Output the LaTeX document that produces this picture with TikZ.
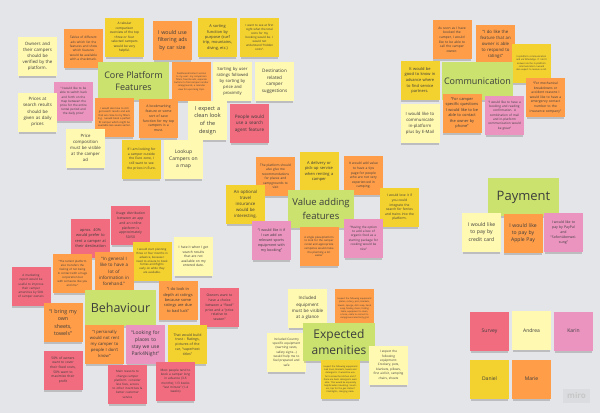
\documentclass[tikz,border=0pt]{standalone}
\usepackage{fontspec}
\setmainfont{Open Sans}
\usetikzlibrary{shadows}
\newdimen\nfsd
\newcommand\nfs[1]{\nfsd=#1pt \nfsd=1.4\nfsd \fontsize{#1pt}{\the\nfsd}\selectfont}
\definecolor{board}{HTML}{E4E5E8}
\definecolor{lyel}{HTML}{FFF9B1}
\definecolor{yel}{HTML}{F3D12E}
\definecolor{org}{HTML}{FF9D48}
\definecolor{rose}{HTML}{F16C7F}
\definecolor{vio}{HTML}{EA94BF}
\definecolor{grn}{HTML}{CBE36E}
\definecolor{ink}{HTML}{3C3C3C}
\tikzset{
  fsz/.style={font=\nfs{#1}},
  stick/.style={inner sep=0pt, align=center, text=ink,
    drop shadow={shadow xshift=0pt, shadow yshift=-3pt, shadow scale=0.96, opacity=.22, fill=black!80}},
  note/.style={stick, minimum width=39pt, minimum height=39pt, text width=35pt},
  ly/.style={note, fill=lyel},
  ye/.style={note, fill=yel},
  or/.style={note, fill=org},
  ro/.style={note, fill=rose},
  vi/.style={note, fill=vio},
  hdr/.style={stick, fill=grn, minimum width=71pt, minimum height=38pt},
}
\begin{document}
\begin{tikzpicture}[x=1pt,y=-1pt]
\fill[board] (0,0) rectangle (600,413);
\useasboundingbox (0,0) rectangle (600,413);

% ---------- Core platform features ----------
\node[ly, fsz=4.4] (verify) at (37.5,56.5) {Owners and\\their campers\\should be\\verified by the\\platform.};
\node[or, fsz=3.1] (tables) at (83.5,48.5) {Tables of different\\ads which list the\\features and show\\which features\\would be available\\with a checkmark.};
\node[ye, fsz=3.2] (tabular) at (124.5,37.5) {A tabular\\comparison\\overview of the top\\three or four\\selected campers\\would be very\\helpful.};
\node[or, fsz=5.3] (carsize) at (172.5,40.5) {I would use\\filtering ads\\by car size};
\node[ye, fsz=3.9] (purpose) at (217.5,37.5) {A sorting\\function by\\purpose (surf\\trip, mountains,\\diving, etc.)};
\node[ye, fsz=2.9] (costs) at (259.5,37.5) {I want to see at first\\sight what the total\\costs for my\\booking would be. I\\would not\\understand “hidden\\costs”.};
\node[hdr, fsz=9] (core) at (133.5,81) {Core Platform\\Features};
\node[or, fsz=2.3] (dash) at (191.5,81.5) {Dashboard/content section to my user: my comparison filters, favorite ads, separate buttons to find campers and/or campgrounds, a calendar view for upcoming trips.};
\node[ly, fsz=4.2] (ratings) at (232.5,81.5) {Sorting by user\\ratings followed\\by sorting by\\price and\\proximity};
\node[ly, fsz=4.6] (dest) at (274.5,81.5) {Destination\\related\\camper\\suggestions};
\node[vi, fsz=3.0] (switch) at (73.5,101.5) {“I would like to be\\able to switch back\\and forth on the\\map between the\\price for the entire\\rental period and\\the daily price”};
\node[ly, fsz=4.4] (daily) at (37.5,112) {Prices at\\search results\\should be\\given as daily\\prices};
\node[or, fsz=2.5] (close) at (114.5,117) {I would also love to still get search results and ads that are close to my filters. E.g. I would book a perfect fit camper which might be available two weeks earlier.};
\node[or, fsz=3.4] (bookmark) at (158.5,118.5) {A bookmarking\\feature or some\\sort of save\\function for my top\\campers is a\\must.};
\node[ly, fsz=5.5] (clean) at (207.5,120.5) {I expect a\\clean look\\of the\\design};
\node[ro, fsz=4.6] (agent) at (249.5,123.5) {People would\\use a search\\agent feature};
\node[ly, fsz=4.3] (compo) at (85.5,148) {Price\\composition\\must be visible\\at the camper\\ad};
\node[ye, fsz=3.3] (euro) at (141.5,159) {If I am looking for\\a camper outside\\the Euro zone, I\\still want to see\\the prices in Euro.};
\node[ly, fsz=5.0] (map) at (183.5,159.5) {Lookup\\Campers on\\a map};

% ---------- Communication ----------
\node[or, fsz=3.3] (call) at (452,39.5) {As soon as I have\\booked the\\camper, I would\\like to be able to\\call the camper\\owner.};
\node[or, fsz=4.3] (respond) at (495.5,44.5) {“I do like the\\feature that an\\owner is able\\to respond to\\ratings”};
\node[ye, fsz=2.3] (whatsapp) at (531.5,63.5) {In-platform communication and via WhatsApp. If I don't answer via the in-platform communication I would also expect to receive a call.};
\node[ye, fsz=4.0] (partners) at (420,80.5) {It would be\\good to know in\\advance where\\to find service\\partners.};
\node[hdr, fsz=9] (comm) at (477.5,81) {Communication};
\node[or, fsz=3.3] (mech) at (545.5,97.5) {“For mechanical\\breakdowns or\\accident reasons I\\would like to have a\\emergency contact\\number to the\\insurance company”};
\node[or, fsz=3.9] (phone) at (462,113) {“For camper\\specific questions\\I would like to be\\able to contact\\the owner by\\phone”};
\node[vi, fsz=3.1] (confirm) at (504.5,115.5) {“I would like to have a\\booking and reading\\confirmation. A\\combination of mail\\and in-platform\\communication would\\be great”};
\node[ly, fsz=4.3] (inplat) at (420,123.5) {I would like to\\communicate\\in-platform\\plus by E-Mail};

% ---------- Value adding features ----------
\node[ye, fsz=4.0] (delivery) at (319,171.5) {A delivery or\\pick-up service\\when renting a\\camper};
\node[or, fsz=3.3] (tips) at (363.5,175.5) {It would add value\\to have a tips\\page for people\\who are not very\\experienced in\\camping.};
\node[or, fsz=3.2] (recom) at (275.5,176.5) {The platform should\\also give me\\recommendations\\for places and\\campgrounds to\\visit};
\node[ye, fsz=4.3] (insur) at (245.5,204.5) {An optional\\travel\\insurance\\would be\\interesting.};
\node[hdr, fsz=9.5, minimum width=66pt] (value) at (321,209) {Value adding\\features};
\node[ye, fsz=3.3] (ferries) at (399.5,207.5) {I would love it if\\you could\\integrate the\\search for ferries\\and trains into the\\platform.};
\node[vi, fsz=3.1] (organic) at (363.5,238) {“Having the option\\to add a box of\\organic food as a\\starting package for\\cooking would be\\nice”};
\node[vi, fsz=3.6] (sports) at (271.5,240.5) {“I would like it if\\I can add on\\relevant sports\\equipment with\\my booking”};
\node[or, fsz=2.7] (single) at (319,246.5) {A single place/platform\\to look for the camper\\rental and appropriate\\campsites would make\\the planning a lot\\easier};

% ---------- Payment ----------
\node[hdr, fsz=13] (pay) at (523.5,197) {Payment};
\node[ly, fsz=5.1] (credit) at (481.5,232) {I would like\\to pay by\\credit card};
\node[or, fsz=5.1] (apple) at (523,233.5) {I would like\\to pay by\\Apple Pay};
\node[vi, fsz=3.5] (paypal) at (563.5,232.5) {I would like to\\pay by PayPal\\and\\“Sofortüberwei-\\sung”};

% ---------- Behaviour ----------
\node[ro, fsz=3.4] (usage) at (130.5,225.5) {Usage distribution\\between an app\\and an online\\platform is\\approximately\\50/50};
\node[ro, fsz=3.9] (dest40) at (90.5,238) {aprox. 40\%\\would prefer to\\rent a camper at\\their destination};
\node[ly, fsz=3.3] (hate) at (193.5,256.5) {I hate it when I get\\search results\\that are not\\available on my\\entered date.};
\node[ye, fsz=2.8] (plan) at (152,261) {I would start planning\\three or four months in\\advance, because I\\need to ensure to book\\ferries and flights\\early on while they\\are available.};
\node[or, fsz=2.8] (tarlent) at (72.5,273.5) {“The tarlent platform\\also transfers the\\feeling of not being\\in contact with a huge\\corporation but\\with someone like you\\and me.”};
\node[or, fsz=4.5] (info) at (114,271.5) {“In general I\\like to have a\\lot of\\information in\\forehand.”};
\node[ro, fsz=3.0] (market) at (31,286.5) {A marketing\\report would be\\useful to improve\\their camper\\amenities by 50\%\\of camper owners};
\node[or, fsz=3.9] (depth) at (178,300) {“I do look in\\depth at ratings\\because some\\ratings are due\\to bad luck”};
\node[ro, fsz=3.4] (choice) at (219.5,307.5) {Owners want to\\have a choice\\between a “fixed”\\price and a “price\\relative to\\season”};
\node[hdr, fsz=12.5, minimum height=36pt] (behav) at (120.5,308) {Behaviour};
\node[or, fsz=5.3] (sheets) at (63,322.5) {“I bring my\\own\\sheets,\\towels”};
\node[or, fsz=4.2] (notrent) at (104.5,344) {“I personally\\would not rent\\my camper to\\people I don't\\know”};
\node[vi, fsz=5.0] (park) at (145.5,344) {“Looking for\\places to\\stay we use\\Park4Night”};
\node[ye, fsz=3.5] (trust) at (187.5,344.5) {That would build\\trust : Ratings,\\pictures of the\\car, “superhost\\titles”};
\node[ro, fsz=3.3] (fixed) at (63,370) {50\% of owners\\want to cover\\their fixed costs,\\50\% want to\\maximize their\\profit};
\node[ro, fsz=3.1] (advance) at (175.5,381) {Most people tend to\\book a camper long\\in advance (3-6\\months); 1/3 books\\“last minute” (1-4\\weeks)};
\node[ro, fsz=3.0] (reasons) at (127.5,384.5) {Main reasons to\\change camper\\platform: consider\\less fees, access\\to other incentives \&\\better customer\\service};

% ---------- Expected amenities ----------
\node[ly, fsz=4.4] (glance) at (307.5,308) {Included\\equipment\\must be visible\\at a glance};
\node[or, fsz=2.2] (list) at (354.5,308.5) {I expect the following equipment: plates, cutlery, pots, blankets, towels, sponge, dish soap, hand soap, folding chairs, folding table, equipment to clean, a hose, cable to connect to campground electricity grid};
\node[ly, fsz=3.1] (country) at (286.5,352) {Included Country\\specific equipment\\(warning vests,\\safety signs...)\\would help me to\\feel prepared and\\safe};
\node[hdr, fsz=12, minimum width=72pt] (amen) at (339,342) {Expected\\amenities};
\node[ly, fsz=3.1] (crockery) at (388.5,365) {I expect the\\following\\equipment:\\Crockery, pots,\\blankets, pillows,\\first aid kit, camping\\chairs, sheets};
\node[ye, fsz=2.2] (bed) at (340.5,379.5) {I expect the following equipment: bed linen, blankets, towels and detergents. It would be useful to know the kitchen and if there are basic detergents available. This would be especially helpful when travelling. Vouchers, tips for the gas station? Flashlights, charging cable.};

% ---------- Participants ----------
\node[ro, fsz=5.0] (survey) at (489.5,331) {Survey};
\node[ly, fsz=5.0] (andrea) at (531.5,330.5) {Andrea};
\node[vi, fsz=5.0] (karin) at (573.5,331) {Karin};
\node[ye, fsz=5.0] (daniel) at (489.5,379) {Daniel};
\node[or, fsz=5.0] (marie) at (531.5,379) {Marie};

\node[fill=black!4!board, text=black!22, font=\bfseries\fontsize{8}{8}\selectfont, minimum width=27pt, minimum height=14pt, inner sep=1pt] (logo) at (576.5,395.5) {miro};
\end{tikzpicture}
\end{document}
